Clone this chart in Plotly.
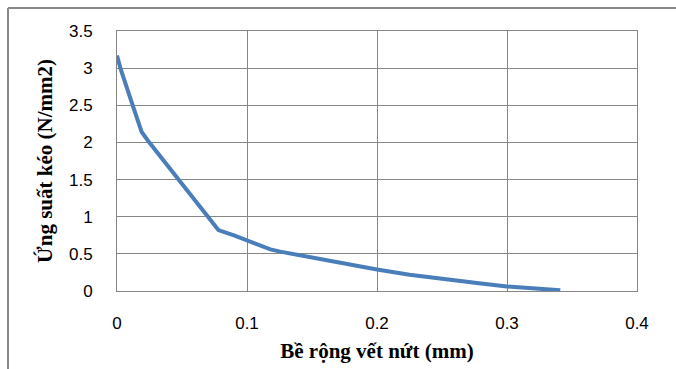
import plotly.graph_objects as go

crack_width = [0, 0.0026, 0.0115, 0.019, 0.024, 0.0395, 0.056, 0.069, 0.072, 0.078,
               0.09, 0.1, 0.118, 0.1256, 0.141, 0.17, 0.2, 0.225, 0.254, 0.28, 0.3, 0.32, 0.341]
tensile_stress = [3.17, 3.0, 2.53, 2.14, 2.02, 1.68, 1.32, 1.03, 0.95, 0.82,
                  0.75, 0.68, 0.56, 0.53, 0.48, 0.38, 0.29, 0.22, 0.15, 0.1, 0.06, 0.03, 0.01]
x_ticks = [0, 0.1, 0.2, 0.3, 0.4]
y_ticks = [0, 0.5, 1, 1.5, 2, 2.5, 3, 3.5]

W, H = 676, 369
L, R, T, B = 117, 39, 31, 78
pw, ph = W - L - R, H - T - B

fig = go.Figure()
fig.add_trace(go.Scatter(x=crack_width, y=tensile_stress, mode="lines",
                         line=dict(color="#4a7ebb", width=4), showlegend=False))

grid = "#868686"
fig.update_xaxes(range=[0, 0.4], tickvals=x_ticks, ticktext=[f"{v:g}" for v in x_ticks],
                 showgrid=True, gridcolor=grid, gridwidth=1, zeroline=False,
                 showline=True, linecolor=grid, linewidth=1, mirror=True,
                 ticks="", ticklabelstandoff=17,
                 tickfont=dict(family="Liberation Sans", size=17, color="#000"),
                 title=dict(text="<b>Bề rộng vết nứt (mm)</b>", standoff=10,
                            font=dict(family="Liberation Serif", size=21, color="#000")))
fig.update_yaxes(range=[0, 3.5], tickvals=y_ticks, ticktext=[f"{v:g}" for v in y_ticks],
                 showgrid=True, gridcolor=grid, gridwidth=1, zeroline=False,
                 showline=True, linecolor=grid, linewidth=1, mirror=True,
                 ticks="", ticklabelstandoff=20,
                 tickfont=dict(family="Liberation Sans", size=17, color="#000"),
                 title=dict(text="<b>Ứng suất kéo (N/mm2)</b>", standoff=10,
                            font=dict(family="Liberation Serif", size=21, color="#000")))

# outer chart-area border (cut off at right and bottom)
x_left = (8 - L) / pw
y_top = 1 + (T - 8) / ph
fig.add_shape(type="line", xref="paper", yref="paper", x0=x_left, x1=1 + (W + 5 - L - pw) / pw,
              y0=y_top, y1=y_top, line=dict(color="#888888", width=2))
fig.add_shape(type="line", xref="paper", yref="paper", x0=x_left, x1=x_left,
              y0=y_top, y1=-(B + 5) / ph, line=dict(color="#888888", width=2))

fig.update_layout(width=W, height=H, margin=dict(l=L, r=R, t=T, b=B),
                  paper_bgcolor="white", plot_bgcolor="white")
fig.write_html("out.html")
